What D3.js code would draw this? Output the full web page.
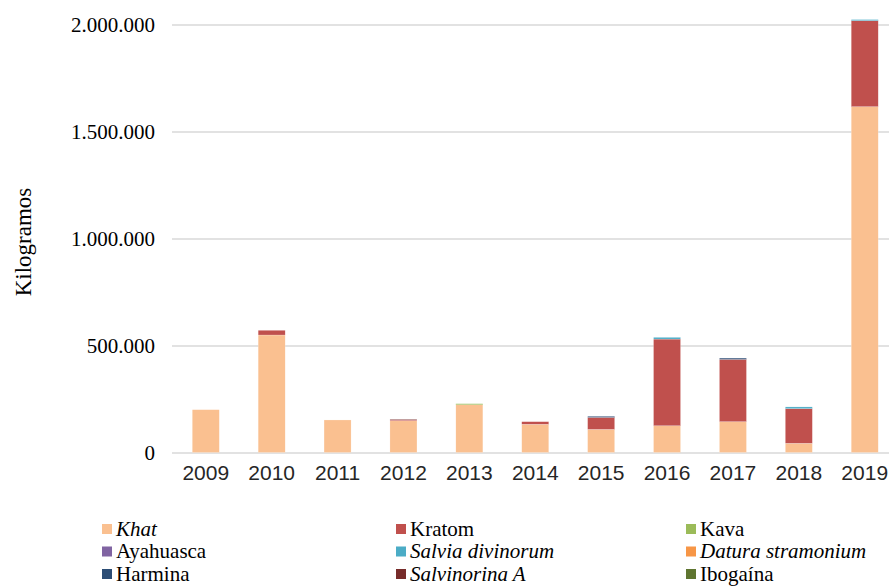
<!DOCTYPE html>
<html>
<head>
<meta charset="utf-8">
<script src="https://cdn.jsdelivr.net/npm/d3@7"></script>
<style>
  html, body { margin: 0; padding: 0; background: #fff; }
  svg { display: block; }
  .serif { font-family: 'Liberation Serif', 'Times New Roman', 'DejaVu Serif', serif; }
  .sans { font-family: 'Liberation Sans', Arial, 'DejaVu Sans', sans-serif; }
</style>
</head>
<body>
<div id="chart"></div>
<script>
  // Datos (kilogramos por año)
  const years = ['2009', '2010', '2011', '2012', '2013', '2014', '2015', '2016', '2017', '2018', '2019'];
  const khat = [200000, 549000, 152000, 148000, 223000, 132000, 108000, 125000, 144000, 43000, 1616000];
  const kratom = [0, 22000, 0, 4000, 0, 12000, 56000, 405000, 291000, 162000, 402000];
  const kava = [0, 0, 0, 0, 5000, 0, 0, 0, 0, 0, 0];
  const ayahuasca = [0, 0, 0, 0, 0, 0, 0, 0, 0, 0, 0];
  const salvia = [0, 0, 0, 0, 0, 0, 0, 8000, 0, 8000, 5000];
  const datura = [0, 0, 0, 0, 0, 0, 0, 0, 0, 0, 0];
  const harmina = [0, 0, 0, 0, 0, 0, 5000, 0, 6000, 0, 0];
  const salvinorinaA = [0, 0, 0, 3000, 0, 0, 0, 0, 0, 0, 0];
  const ibogaina = [0, 0, 0, 0, 0, 0, 0, 0, 0, 0, 0];
  const yTicks = [0, 500000, 1000000, 1500000, 2000000];

  const series = [
    { key: 'Khat', values: khat, color: '#FAC090', italic: true },
    { key: 'Kratom', values: kratom, color: '#C0504D', italic: false },
    { key: 'Kava', values: kava, color: '#9BBB59', italic: false },
    { key: 'Ayahuasca', values: ayahuasca, color: '#8064A2', italic: false },
    { key: 'Salvia divinorum', values: salvia, color: '#4BACC6', italic: true },
    { key: 'Datura stramonium', values: datura, color: '#F79646', italic: true },
    { key: 'Harmina', values: harmina, color: '#2C4D75', italic: false },
    { key: 'Salvinorina A', values: salvinorinaA, color: '#772C2A', italic: true },
    { key: 'Ibogaína', values: ibogaina, color: '#5F7530', italic: false }
  ];

  const width = 889, height = 586;

  const rows = years.map((y, i) => {
    const r = { year: y };
    series.forEach(s => { r[s.key] = s.values[i]; });
    return r;
  });

  const stacked = d3.stack().keys(series.map(s => s.key))(rows);

  const x = d3.scaleBand()
    .domain(years)
    .range([172.5, 898])
    .paddingInner(0.59)
    .paddingOuter(0.3);

  const y = d3.scaleLinear()
    .domain([0, 2000000])
    .range([452.5, 24.5]);

  const fmt = d => d3.format(',')(d).replace(/,/g, '.');

  const svg = d3.select('#chart').append('svg')
    .attr('width', width)
    .attr('height', height);

  // Rejilla y etiquetas del eje Y
  const yAxis = svg.append('g')
    .attr('transform', 'translate(172,0)')
    .call(d3.axisLeft(y).tickValues(yTicks).tickSize(-(width - 172)).tickPadding(17).tickFormat(fmt))
    .attr('font-family', null)
    .attr('font-size', null);
  yAxis.select('.domain').remove();
  yAxis.selectAll('.tick line')
    .attr('stroke', '#d9d9d9')
    .attr('stroke-width', 1.5);
  yAxis.selectAll('.tick text')
    .attr('class', 'serif')
    .style('font-size', '21px')
    .attr('fill', '#000');

  // Barras apiladas
  svg.append('g').selectAll('g')
    .data(stacked)
    .join('g')
    .attr('fill', (d, i) => series[i].color)
    .selectAll('rect')
    .data(d => d.filter(p => p[1] > p[0]))
    .join('rect')
    .attr('x', d => x(d.data.year))
    .attr('y', d => y(d[1]))
    .attr('width', x.bandwidth())
    .attr('height', d => y(d[0]) - y(d[1]))
    .attr('stroke', '#fff')
    .attr('stroke-width', 0.4)
    .attr('stroke-opacity', 0.5);

  // Etiquetas del eje X
  const xAxis = svg.append('g')
    .attr('transform', 'translate(0,452.5)')
    .call(d3.axisBottom(x).tickSize(0).tickPadding(13))
    .attr('font-family', null)
    .attr('font-size', null);
  xAxis.select('.domain').remove();
  xAxis.selectAll('.tick text')
    .attr('class', 'sans')
    .style('font-size', '21px')
    .attr('fill', '#262626');

  // Título del eje Y
  svg.append('text')
    .attr('class', 'serif')
    .attr('transform', 'translate(31,242) rotate(-90)')
    .attr('text-anchor', 'middle')
    .style('font-size', '23px')
    .attr('fill', '#000')
    .text('Kilogramos');

  // Leyenda
  const legendCols = [102, 396, 686];
  const legendRows = [529, 551.5, 574];
  const legend = svg.append('g').selectAll('g')
    .data(series)
    .join('g')
    .attr('transform', (d, i) => `translate(${legendCols[i % 3]},${legendRows[Math.floor(i / 3)]})`);
  legend.append('rect')
    .attr('x', 0)
    .attr('y', -5)
    .attr('width', 10)
    .attr('height', 10)
    .attr('fill', d => d.color);
  legend.append('text')
    .attr('class', 'serif')
    .attr('x', 14)
    .attr('y', 6.5)
    .style('font-size', '21px')
    .style('font-style', d => d.italic ? 'italic' : 'normal')
    .attr('fill', '#000')
    .text(d => d.key);
</script>
</body>
</html>
